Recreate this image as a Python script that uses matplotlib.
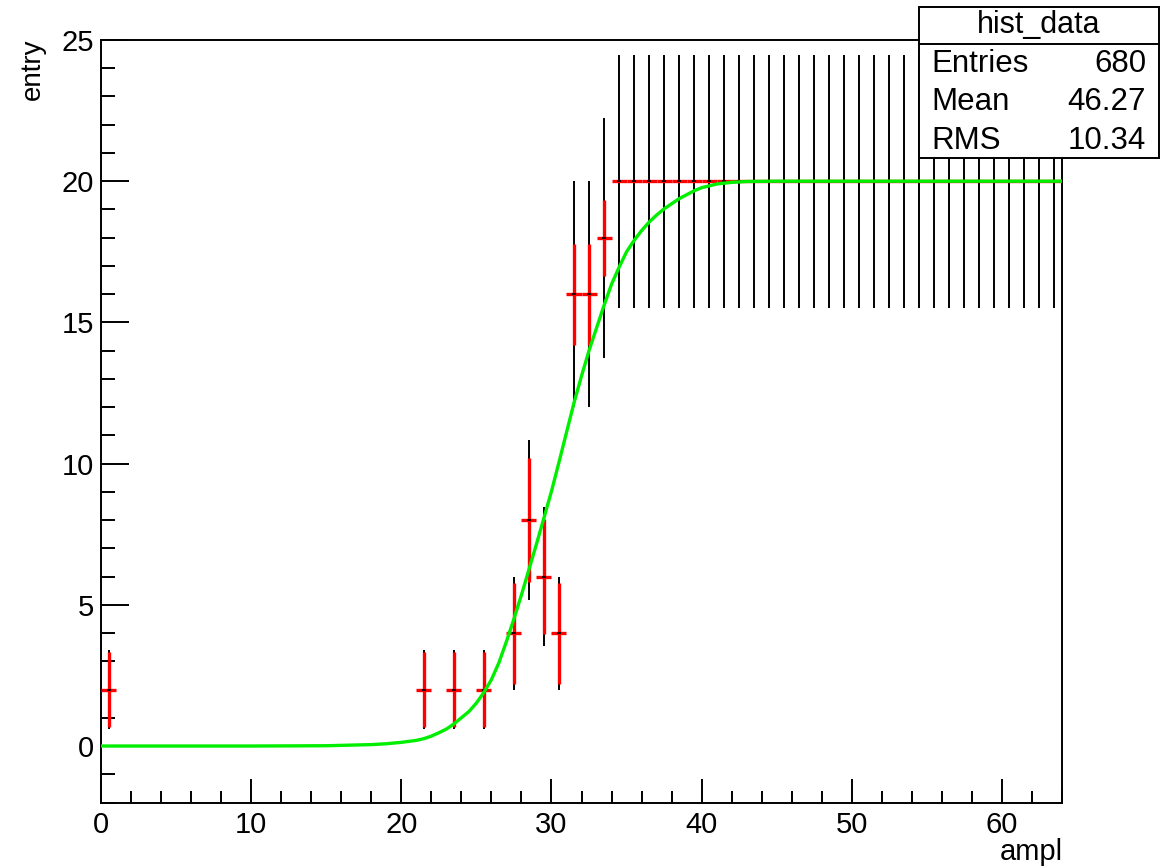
import numpy as np
import matplotlib.pyplot as plt
from matplotlib.ticker import MultipleLocator
from matplotlib.patches import Rectangle

plt.rcParams['font.family'] = ['Liberation Sans', 'DejaVu Sans']

# histogram bins (centers) and contents
ampl = [0.5, 21.5, 23.5, 25.5, 27.5, 28.5, 29.5, 30.5, 31.5, 32.5, 33.5,
        34.5, 35.5, 36.5, 37.5, 38.5, 39.5, 40.5, 41.5, 42.5, 43.5,
        44.5, 45.5, 46.5, 47.5, 48.5, 49.5, 50.5, 51.5, 52.5, 53.5,
        54.5, 55.5, 56.5, 57.5, 58.5, 59.5, 60.5, 61.5, 62.5, 63.5]
entry = [2, 2, 2, 2, 4, 8, 6, 4, 16, 16, 18,
         20, 20, 20, 20, 20, 20, 20, 20, 20, 20,
         20, 20, 20, 20, 20, 20, 20, 20, 20, 20,
         20, 20, 20, 20, 20, 20, 20, 20, 20, 20]
n_trials = 20

# fit curve
fit_x = [0, 5, 10, 15, 18, 19, 20, 21, 21.5, 22, 22.5, 23, 23.5, 24, 24.5,
         25, 25.5, 26, 26.5, 27, 27.5, 28, 28.5, 29, 29.5, 30, 30.5, 31,
         31.5, 32, 32.5, 33, 33.5, 34, 34.5, 35, 35.5, 36, 36.5, 37, 37.5,
         38, 38.5, 39, 39.5, 40, 41, 42, 43, 45, 50, 64]
fit_y = [0.0, 0.0, 0.0, 0.01, 0.05, 0.08, 0.13, 0.2, 0.26, 0.35, 0.47, 0.6,
         0.78, 1.0, 1.22, 1.52, 1.9, 2.35, 2.95, 3.7, 4.5, 5.35, 6.25, 7.15,
         8.08, 9.02, 10.05, 11.1, 12.15, 13.1, 14.0, 14.8, 15.6, 16.35,
         16.95, 17.5, 17.9, 18.25, 18.55, 18.8, 19.02, 19.2, 19.38, 19.52,
         19.66, 19.77, 19.9, 19.96, 19.99, 20.0, 20.0, 20.0]

stats = [('Entries', '680'), ('Mean', '46.27'), ('RMS', '10.34')]

x = np.array(ampl)
n = np.array(entry, dtype=float)
err_poisson = np.sqrt(n)
err_binom = np.sqrt(n * (1 - n / n_trials))

W, H = 1175, 867
fig = plt.figure(figsize=(W / 100, H / 100), dpi=100)
ax = fig.add_axes([101 / W, 1 - 802.5 / H, (1062 - 101) / W, (802.5 - 40) / H])

# black: poisson errors, red: binomial errors
ax.errorbar(x, n, yerr=err_poisson, fmt='none', ecolor='black',
            elinewidth=1.4, capsize=0, zorder=2)
ax.errorbar(x, n, yerr=err_binom, xerr=0.5, fmt='none', ecolor='#ff0000',
            elinewidth=2.4, capsize=0, zorder=3)
ax.plot(x, n, ls='none', marker='_', ms=3, mew=1.2, color='black', zorder=4)
ax.plot(fit_x, fit_y, color='#00ee00', lw=2.4, zorder=5,
        solid_joinstyle='round')

ax.set_xlim(0, 64)
ax.set_ylim(-2, 25)
ax.xaxis.set_major_locator(MultipleLocator(10))
ax.xaxis.set_minor_locator(MultipleLocator(2))
ax.yaxis.set_major_locator(MultipleLocator(5))
ax.yaxis.set_minor_locator(MultipleLocator(1))
ax.tick_params(which='both', direction='in', top=False, right=False,
               width=1.4, labelsize=21)
ax.tick_params(axis='x', which='major', length=17, pad=6)
ax.tick_params(axis='x', which='minor', length=8.5)
ax.tick_params(axis='y', which='major', length=20, pad=5)
ax.tick_params(axis='y', which='minor', length=10)
for s in ax.spines.values():
    s.set_linewidth(1.4)

fig.text(33 / W, 1 - 38 / H, 'entry', rotation=90, ha='center', va='top',
         fontsize=20)
fig.text(1063 / W, 1 - 838 / H, 'ampl', ha='right', va='top', fontsize=21)

# stats box
bx0, bx1, by0, by1, bsep = 919, 1159, 7, 158, 44
fig.patches.append(Rectangle((bx0 / W, 1 - by1 / H), (bx1 - bx0) / W,
                             (by1 - by0) / H, transform=fig.transFigure,
                             facecolor='white', edgecolor='black', lw=1.4,
                             zorder=10))
fig.add_artist(plt.Line2D([bx0 / W, bx1 / W], [1 - bsep / H, 1 - bsep / H],
                          transform=fig.transFigure, color='black', lw=1.4,
                          zorder=11))
fig.text((bx0 + bx1) / 2 / W, 1 - 25 / H, 'hist_data', ha='center',
         va='center', fontsize=22, zorder=12)
for i, (name, val) in enumerate(stats):
    yy = 1 - (64 + i * 38.5) / H
    fig.text(931 / W, yy, name, ha='left', va='center', fontsize=22.5,
             zorder=12)
    fig.text(1146 / W, yy, val, ha='right', va='center', fontsize=22.5,
             zorder=12)

fig.savefig('out.png', dpi=100)
